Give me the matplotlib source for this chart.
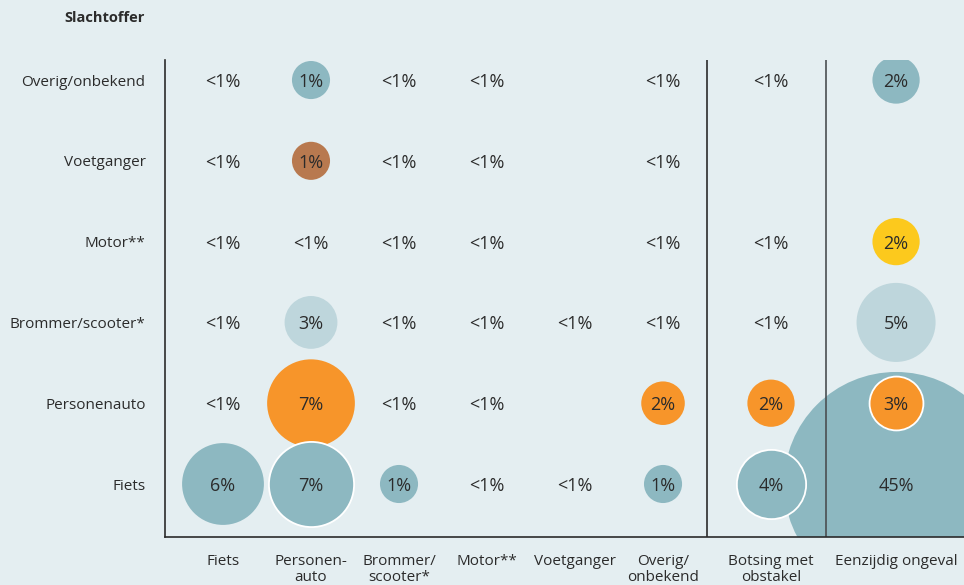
import numpy as np
import matplotlib
matplotlib.use("Agg")
import matplotlib.pyplot as plt

plt.rcParams['font.family'] = ['Open Sans', 'DejaVu Sans']

# ---- data ----
victims = ["Overig/onbekend", "Voetganger", "Motor**", "Brommer/scooter*",
           "Personenauto", "Fiets"]
opponents = ["Fiets", "Personen-\nauto", "Brommer/\nscooter*", "Motor**",
             "Voetganger", "Overig/\nonbekend", "Botsing met\nobstakel",
             "Eenzijdig ongeval"]

# displayed labels per victim row (columns = opponents); '' = no value
labels_overig     = ["<1%", "1%", "<1%", "<1%", "", "<1%", "<1%", "2%"]
labels_voetganger = ["<1%", "1%", "<1%", "<1%", "", "<1%", "", ""]
labels_motor      = ["<1%", "<1%", "<1%", "<1%", "", "<1%", "<1%", "2%"]
labels_brommer    = ["<1%", "3%", "<1%", "<1%", "<1%", "<1%", "<1%", "5%"]
labels_auto       = ["<1%", "7%", "<1%", "<1%", "", "2%", "2%", "3%"]
labels_fiets      = ["6%", "7%", "1%", "<1%", "<1%", "1%", "4%", "45%"]

# estimated (unrounded) shares in % used for circle area; 0 = no circle
share_overig     = [0, 1.3, 0, 0, 0, 0, 0, 2.0]
share_voetganger = [0, 1.3, 0, 0, 0, 0, 0, 0]
share_motor      = [0, 0, 0, 0, 0, 0, 0, 2.0]
share_brommer    = [0, 2.5, 0, 0, 0, 0, 0, 5.6]
share_auto       = [0, 6.9, 0, 0, 0, 1.7, 2.0, 2.6]
share_fiets      = [6.0, 6.5, 1.3, 0, 0, 1.3, 4.3, 45.0]

row_colors = ["#8db8c1", "#b8794f", "#fcc91d", "#bed6dc", "#f7952a", "#8db8c1"]

labels = [labels_overig, labels_voetganger, labels_motor, labels_brommer,
          labels_auto, labels_fiets]
shares = [share_overig, share_voetganger, share_motor, share_brommer,
          share_auto, share_fiets]

# ---- layout ----
BG = "#e4eef1"
TXT = "#2b2b2b"
col_pos = [0, 1, 2, 3, 4, 5, 6.227, 7.648]
sep_pos = [5.5, 6.852]
K = 16.7  # px radius per sqrt(%)
DPI = 100

fig = plt.figure(figsize=(9.64, 5.85), dpi=DPI, facecolor=BG)
ax = fig.add_axes([165/964, 48/585, 799/964, 477/585])
ax.set_facecolor(BG)
ax.set_xlim(-0.659, 8.420)
ax.set_ylim(5.656, -0.248)

white_edge = {(4, 7), (5, 1), (5, 6)}

def size_pts(v):
    r_pt = K * np.sqrt(v) * 72 / DPI
    return (2 * r_pt) ** 2

for ri in range(len(victims)):
    for ci in range(len(opponents)):
        v = shares[ri][ci]
        if v <= 0:
            continue
        z = 1 if v > 20 else 3 + ri * 0.1
        ec = "white" if (ri, ci) in white_edge else "none"
        ax.scatter([col_pos[ci]], [ri], s=size_pts(v), color=row_colors[ri],
                   edgecolors=ec, linewidths=1.3, zorder=z)

for ri in range(len(victims)):
    for ci in range(len(opponents)):
        t = labels[ri][ci]
        if t:
            ax.text(col_pos[ci], ri, t, ha="center", va="center_baseline",
                    fontsize=13, color=TXT, zorder=10)

ax.axvline(sep_pos[0], color="#2b2b2b", lw=1.2, zorder=5)
ax.axvline(sep_pos[1], color="#4a4f52", lw=1.2, zorder=5)

for s in ["top", "right"]:
    ax.spines[s].set_visible(False)
for s in ["left", "bottom"]:
    ax.spines[s].set_color("#2b2b2b")
    ax.spines[s].set_linewidth(1.2)
    ax.spines[s].set_zorder(6)

ax.set_yticks(range(len(victims)))
ax.set_yticklabels(victims)
ax.set_xticks(col_pos)
ax.set_xticklabels(opponents, linespacing=1.15)
ax.tick_params(axis="y", length=0, pad=14, labelsize=11, labelcolor=TXT)
ax.tick_params(axis="x", length=0, pad=12, labelsize=11, labelcolor=TXT)
for lab in ax.get_xticklabels():
    lab.set_verticalalignment("top")

fig.text(145/964, 1 - 18/585, "Slachtoffer", ha="right", va="center",
         fontsize=10.5, fontweight="bold", color=TXT)

fig.savefig("out.png", dpi=DPI, facecolor=BG)
